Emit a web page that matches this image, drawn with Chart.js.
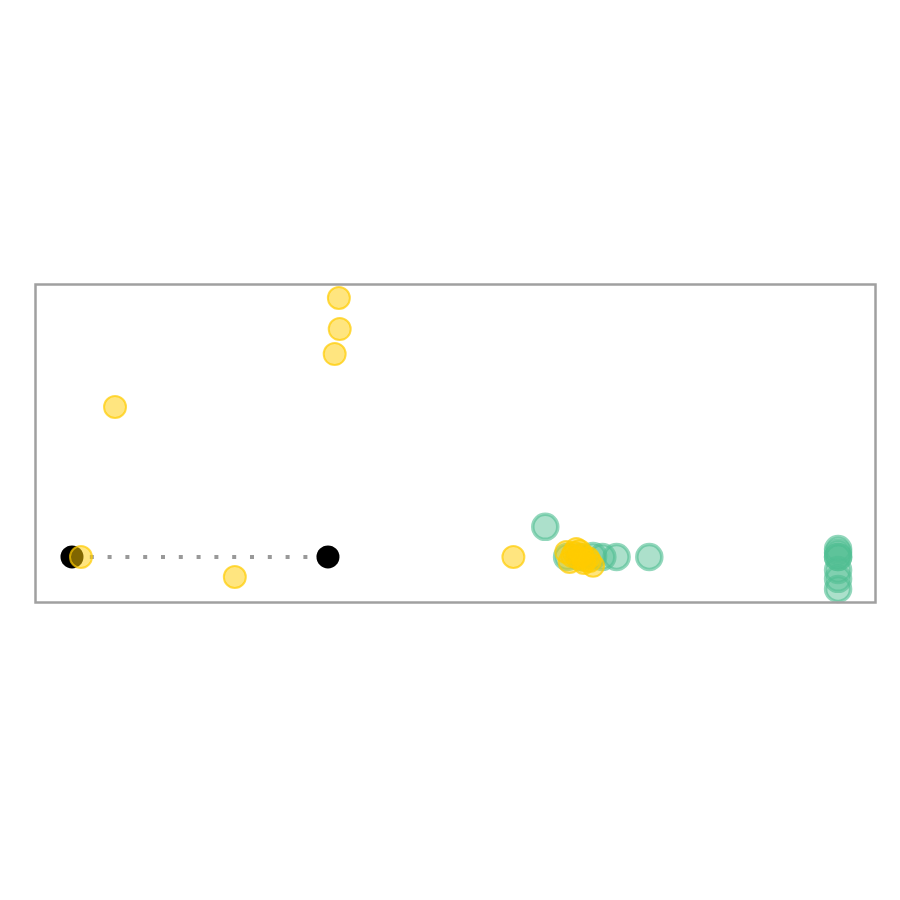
<!DOCTYPE html>
<html>
<head>
<meta charset="utf-8">
<script src="https://cdn.jsdelivr.net/npm/chart.js@4"></script>
<style>
html,body{margin:0;padding:0;background:#fff;}
#wrap{width:900px;height:900px;position:relative;}
</style>
</head>
<body>
<div id="wrap"><canvas id="c"></canvas></div>
<script>
// Data (arbitrary units, x 0-100, y 0-100)
const blackX = [4.29, 34.8];
const blackY = [14.2, 14.2];

const yellowX = [5.36, 9.42, 23.7, 36.1, 36.2, 35.6, 56.9, 63.2, 63.9, 64.4, 64.6, 65.1, 65.4, 65.8, 66.4, 63.6, 64.1, 64.8, 65.3, 66.0];
const yellowY = [14.2, 61.5, 7.9, 95.9, 86.1, 78.2, 14.2, 15.8, 14.5, 16.7, 13.9, 14.8, 13.2, 13.9, 11.4, 12.6, 15.5, 16.1, 12.3, 12.9];

const tealX = [60.7, 63.3, 64.8, 66.4, 67.5, 69.2, 73.1, 95.6, 95.6, 95.6, 95.6, 95.6, 95.6, 95.6];
const tealY = [23.7, 14.2, 14.2, 14.5, 14.2, 14.2, 14.2, 16.7, 15.5, 14.2, 14.2, 10.1, 7.3, 4.1];

const toPts = (xs, ys) => xs.map((x, i) => ({x: x, y: ys[i]}));

const frame = {
  id: 'frame',
  afterDraw(chart) {
    const {ctx, chartArea: a} = chart;
    ctx.save();
    ctx.strokeStyle = '#a0a0a0';
    ctx.lineWidth = 2.5;
    ctx.strokeRect(a.left - 0.5, a.top - 0.5, a.right - a.left + 1, a.bottom - a.top + 1);
    ctx.restore();
  }
};

new Chart(document.getElementById('c'), {
  type: 'scatter',
  data: {
    datasets: [
      {
        label: 'yellow',
        data: toPts(yellowX, yellowY),
        order: 0,
        pointRadius: 11,
        pointBorderWidth: 2,
        backgroundColor: 'rgba(255,204,0,0.5)',
        borderColor: 'rgba(255,204,0,0.7)',
        clip: false
      },
      {
        label: 'black',
        data: toPts(blackX, blackY),
        order: 1,
        showLine: true,
        borderColor: '#999999',
        borderWidth: 4,
        borderDash: [4, 13.8],
        pointRadius: 11.5,
        pointBorderWidth: 0,
        pointBackgroundColor: '#000000',
        pointBorderColor: '#000000',
        clip: false
      },
      {
        label: 'teal',
        data: toPts(tealX, tealY),
        order: 2,
        pointRadius: 12.5,
        pointBorderWidth: 3.5,
        backgroundColor: 'rgba(81,191,147,0.48)',
        borderColor: 'rgba(81,191,147,0.62)',
        clip: false
      }
    ]
  },
  options: {
    responsive: true,
    maintainAspectRatio: false,
    animation: false,
    layout: { padding: { left: 36, right: 25, top: 285, bottom: 298 } },
    scales: {
      x: { type: 'linear', min: 0, max: 100, display: false },
      y: { type: 'linear', min: 0, max: 100, display: false }
    },
    plugins: {
      legend: { display: false },
      tooltip: { enabled: false }
    }
  },
  plugins: [frame]
});
</script>
</body>
</html>
